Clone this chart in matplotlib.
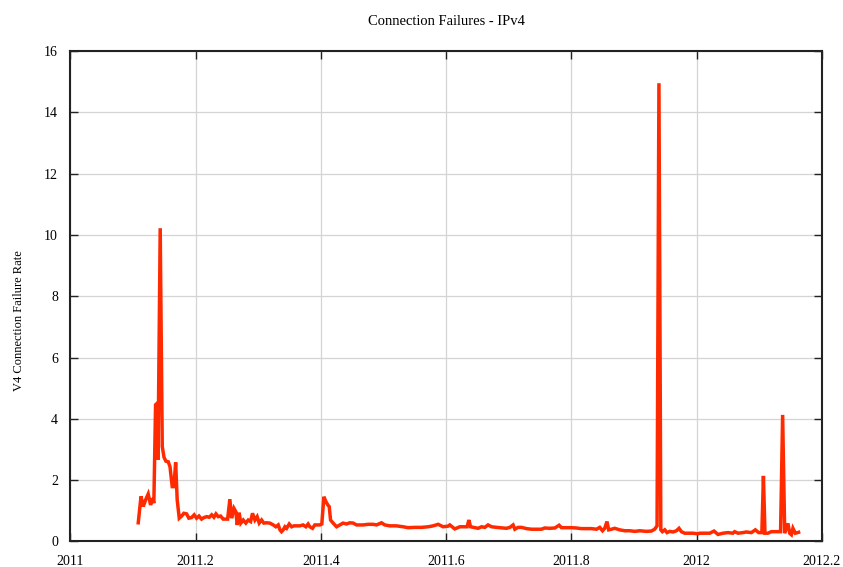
import numpy as np
import matplotlib.pyplot as plt

# sample day (days since 2011-01-01) and IPv4 connection failure rate
days = [39.5, 41.1, 42.4, 43.8, 45.3, 46.7, 47.7, 48.6, 49.6, 50.4,
        51.0, 52.3, 53.5, 54.5, 55.6, 57.0, 58.0, 59.3, 60.3, 61.3,
        62.2, 63.4, 64.8, 66.1, 67.7, 69.0, 70.6, 72.1, 73.5, 74.9,
        76.4, 77.8, 79.4, 80.9, 82.3, 83.6, 84.8, 86.1, 87.5, 89.0,
        90.4, 91.6, 92.9, 93.9, 95.3, 96.4, 97.2, 98.3, 99.3, 100.7,
        102.2, 103.6, 105.0, 106.1, 107.5, 108.8, 110.0, 111.4, 112.7, 114.3,
        116.2, 118.2, 119.7, 121.1, 122.1, 123.0, 124.0, 125.0, 126.0, 127.5,
        128.9, 130.2, 131.8, 133.7, 135.6, 137.2, 138.5, 139.5, 141.1, 142.4,
        143.8, 145.4, 146.5, 147.7, 148.9, 150.0, 150.8, 151.6, 153.1, 155.1,
        157.0, 158.9, 160.9, 162.8, 164.8, 166.7, 167.7, 170.6, 173.5, 176.4,
        178.4, 181.3, 183.2, 186.1, 190.0, 193.9, 196.8, 200.7, 204.6, 208.5,
        211.4, 214.3, 217.2, 220.1, 221.1, 224.0, 226.9, 229.8, 231.2, 232.2,
        233.2, 235.7, 237.6, 239.6, 241.5, 243.4, 245.4, 248.3, 250.2, 254.1,
        256.1, 258.0, 259.0, 260.9, 262.9, 265.8, 268.7, 271.6, 274.5, 276.4,
        279.4, 282.3, 284.8, 286.2, 289.1, 292.0, 294.9, 297.8, 300.7, 303.6,
        306.6, 308.5, 310.1, 311.4, 312.7, 313.7, 315.3, 317.2, 320.1, 323.1,
        326.0, 328.9, 331.8, 335.7, 338.6, 340.5, 341.9, 343.0, 344.1, 345.0,
        346.4, 347.7, 349.3, 351.2, 353.2, 354.7, 356.1, 358.0, 359.9, 362.8,
        365.8, 366.7, 369.7, 372.6, 375.1, 377.4, 380.3, 383.2, 386.1, 387.1,
        389.1, 392.0, 393.9, 396.9, 399.2, 401.1, 403.0, 403.9, 404.8, 406.5,
        408.5, 411.4, 413.9, 415.1, 416.3, 418.2, 419.2, 420.2, 421.1, 422.5,
        424.4]
rate = [0.61, 1.47, 1.14, 1.36, 1.55, 1.19, 1.41, 1.25, 4.46, 4.5,
        2.66, 10.22, 3.1, 2.75, 2.62, 2.6, 2.44, 1.79, 1.79, 2.58,
        1.36, 0.76, 0.83, 0.92, 0.9, 0.76, 0.78, 0.87, 0.76, 0.83,
        0.73, 0.78, 0.81, 0.79, 0.87, 0.79, 0.9, 0.81, 0.83, 0.73,
        0.73, 0.73, 1.38, 0.76, 1.08, 0.97, 0.54, 0.94, 0.6, 0.7,
        0.6, 0.7, 0.65, 0.92, 0.7, 0.81, 0.6, 0.7, 0.6, 0.61,
        0.6, 0.54, 0.48, 0.54, 0.38, 0.32, 0.38, 0.48, 0.43, 0.57,
        0.48, 0.51, 0.51, 0.51, 0.54, 0.48, 0.57, 0.48, 0.43, 0.54,
        0.54, 0.54, 0.57, 1.46, 1.3, 1.19, 1.14, 0.7, 0.6, 0.48,
        0.54, 0.6, 0.57, 0.61, 0.6, 0.54, 0.54, 0.54, 0.56, 0.56,
        0.54, 0.61, 0.54, 0.51, 0.51, 0.48, 0.45, 0.46, 0.46, 0.48,
        0.51, 0.56, 0.48, 0.5, 0.54, 0.41, 0.48, 0.48, 0.48, 0.7,
        0.48, 0.45, 0.43, 0.48, 0.46, 0.54, 0.48, 0.46, 0.45, 0.43,
        0.46, 0.54, 0.40, 0.46, 0.46, 0.42, 0.40, 0.40, 0.40, 0.44,
        0.43, 0.44, 0.53, 0.45, 0.45, 0.45, 0.44, 0.42, 0.42, 0.42,
        0.40, 0.46, 0.35, 0.43, 0.65, 0.38, 0.40, 0.43, 0.38, 0.35,
        0.35, 0.33, 0.35, 0.33, 0.34, 0.40, 0.51, 14.95, 0.38, 0.32,
        0.38, 0.29, 0.33, 0.31, 0.35, 0.43, 0.32, 0.27, 0.27, 0.27,
        0.25, 0.27, 0.27, 0.27, 0.34, 0.23, 0.27, 0.29, 0.27, 0.32,
        0.27, 0.29, 0.31, 0.29, 0.38, 0.29, 0.29, 2.14, 0.27, 0.27,
        0.32, 0.32, 0.32, 4.13, 0.27, 0.59, 0.27, 0.22, 0.43, 0.27,
        0.3]

xticks = [2011, 2011.2, 2011.4, 2011.6, 2011.8, 2012, 2012.2]
xtick_labels = ['2011', '2011.2', '2011.4', '2011.6', '2011.8', '2012', '2012.2']
yticks = [0, 2, 4, 6, 8, 10, 12, 14, 16]

plt.rcParams['font.family'] = ['Liberation Serif', 'DejaVu Serif']
plt.rcParams['font.size'] = 10

year = 2011 + np.array(days) / 365.0

fig = plt.figure(figsize=(8.43, 5.67), dpi=100)
ax = fig.add_axes([0.0836, 0.0450, 0.8914, 0.8650])

ax.plot(year, rate, color='#ff2a00', linewidth=2.5, solid_joinstyle='miter')

ax.set_xlim(2011, 2012.2)
ax.set_ylim(0, 16)
ax.set_xticks(xticks)
ax.set_xticklabels(xtick_labels)
ax.set_yticks(yticks)
ax.grid(True, color='#d4d4d4', linewidth=0.9)
ax.set_axisbelow(True)

ax.tick_params(direction='in', length=6, width=1, top=True, right=True,
               colors='#222222', labelcolor='black')
ax.tick_params(axis='x', pad=10)
ax.tick_params(axis='y', pad=9)
for s in ax.spines.values():
    s.set_linewidth(1.5)
    s.set_color('#222222')

ax.set_title('Connection Failures - IPv4', fontsize=10.5, pad=19)
ax.set_ylabel('V4 Connection Failure Rate', fontsize=9)
ax.yaxis.set_label_coords(-0.061, 0.45)

fig.savefig('out.png', dpi=100)
